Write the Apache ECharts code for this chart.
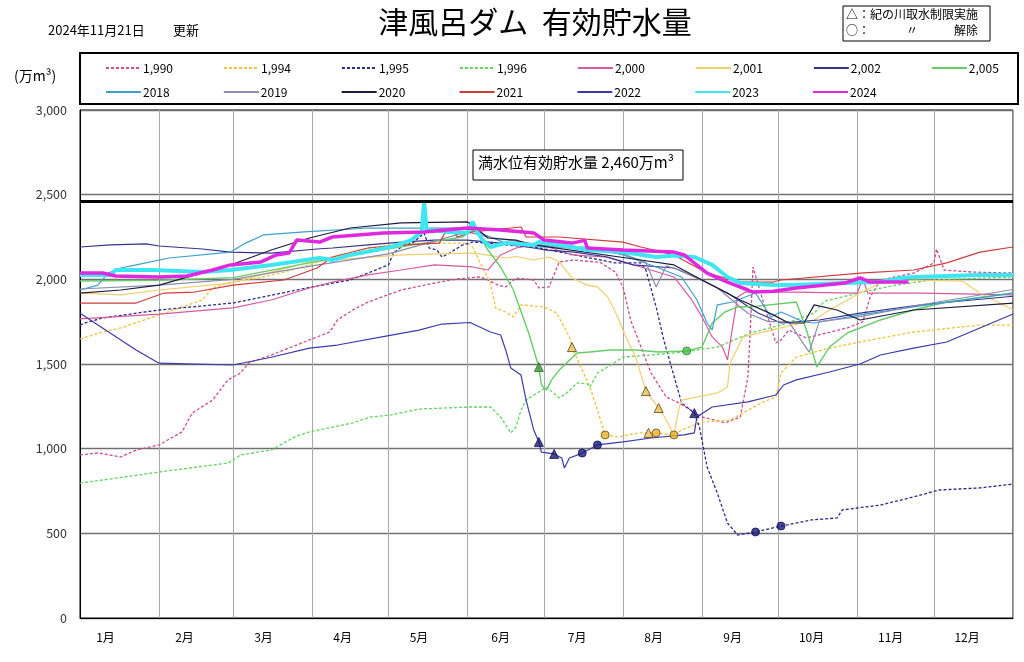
<!DOCTYPE html>
<html><head><meta charset="utf-8">
<script src="https://cdn.jsdelivr.net/npm/echarts@6/dist/echarts.min.js"></script>
<style>html,body{margin:0;padding:0;background:#fff}#c{width:1024px;height:662px}</style>
</head><body><div id="c"></div>
<script>
// ---- axis / tick data ----
const monthStarts = [0,31,60,91,121,152,182,213,244,274,305,335,366];
const monthLabels = ['1月','2月','3月','4月','5月','6月','7月','8月','9月','10月','11月','12月'];
const labelDays = [10,41,72,103,133,165,195,225,256,287,318,348];
const fullLevel = 2460;

// ---- series values: [day of year, 万m3] ----
const y1990 = [[0,963],[7,975],[16,951],[22,992],[31,1022],[40,1099],[44,1210],[52,1287],[58,1406],[63,1447],[66,1505],[75,1553],[90,1642],[98,1689],[101,1760],[107,1819],[113,1866],[126,1937],[141,1984],[148,2002],[157,2014],[160,1996],[164,1966],[167,1955],[171,2008],[178,1996],[180,1949],[184,1955],[188,2103],[194,2114],[204,2100],[210,2043],[213,1955],[216,1760],[219,1642],[224,1447],[230,1305],[235,1270],[244,1187],[253,1152],[259,1187],[262,1423],[263,1719],[264,2073],[267,1919],[271,1719],[273,1624],[275,1642],[278,1700],[285,1654],[301,1713],[307,1748],[310,1896],[314,1996],[327,2037],[335,2097],[336,2179],[339,2055],[350,2043],[366,2037]];
const y1994 = [[0,1648],[9,1689],[16,1713],[31,1790],[48,1878],[52,1949],[58,1978],[70,2008],[80,2043],[90,2085],[99,2132],[113,2185],[122,2203],[139,2214],[152,2214],[154,2191],[157,2097],[161,1978],[163,1831],[167,1807],[170,1778],[173,1849],[182,1837],[187,1801],[192,1660],[193,1600],[200,1364],[203,1228],[206,1081],[211,1069],[219,1093],[226,1093],[233,1081],[236,1110],[244,1157],[255,1169],[268,1276],[273,1305],[275,1447],[281,1541],[294,1594],[306,1630],[327,1689],[353,1730],[366,1730]];
const y1995 = [[0,1730],[3,1748],[9,1772],[31,1819],[60,1860],[91,1955],[106,1996],[121,2085],[123,2155],[126,2191],[131,2220],[135,2274],[137,2185],[140,2173],[142,2132],[145,2155],[150,2203],[154,2220],[160,2214],[167,2203],[178,2191],[210,2097],[220,2097],[222,2055],[226,1837],[229,1642],[236,1270],[241,1210],[243,1128],[246,892],[250,738],[254,561],[258,490],[265,508],[275,543],[287,579],[297,591],[299,638],[314,667],[327,715],[337,756],[353,768],[366,791]];
const y1996 = [[0,797],[9,815],[31,862],[58,915],[60,933],[63,963],[75,992],[85,1075],[90,1099],[107,1152],[114,1187],[122,1199],[133,1234],[153,1246],[161,1246],[165,1187],[169,1093],[171,1128],[173,1228],[175,1287],[183,1364],[188,1300],[191,1329],[195,1388],[199,1383],[200,1364],[203,1447],[207,1482],[213,1541],[224,1553],[237,1571],[250,1600],[263,1683],[275,1730],[288,1800],[292,1870],[307,1925],[320,1966],[334,1996],[366,2014]];
const y2000 = [[0,1766],[31,1795],[60,1831],[75,1878],[90,1949],[99,1984],[113,2026],[126,2055],[139,2085],[154,2073],[160,2055],[165,2144],[171,2185],[178,2203],[182,2200],[193,2144],[206,2132],[220,2073],[233,2014],[240,1878],[244,1778],[248,1660],[252,1600],[254,1524],[256,1719],[258,1896],[261,1925],[280,1925],[305,1919],[307,2008],[309,1919],[330,1919],[366,1908]];
const y2001 = [[0,1919],[16,1908],[31,1937],[59,1978],[90,2103],[99,2114],[126,2144],[152,2155],[157,2150],[167,2126],[171,2135],[178,2114],[184,2132],[188,2103],[193,2008],[199,1966],[203,1955],[207,1896],[211,1778],[213,1701],[216,1600],[218,1541],[222,1340],[227,1240],[230,1169],[233,1081],[235,1240],[236,1287],[250,1329],[254,1364],[255,1506],[257,1565],[260,1660],[275,1713],[288,1760],[294,1819],[306,1919],[314,1978],[327,1996],[346,1990],[353,1919],[366,1819]];
const y2002 = [[0,2191],[12,2203],[26,2209],[31,2197],[48,2179],[59,2161],[75,2155],[93,2179],[99,2185],[113,2203],[126,2220],[139,2232],[152,2232],[165,2214],[178,2185],[183,2173],[194,2161],[207,2132],[217,2085],[233,2067],[244,1996],[254,1919],[266,1801],[275,1742],[290,1760],[306,1800],[330,1850],[366,1900]];
const y2005 = [[0,1990],[31,1995],[60,2010],[91,2100],[121,2180],[150,2250],[155,2300],[160,2173],[165,2073],[170,1937],[176,1683],[180,1482],[181,1376],[183,1346],[185,1406],[188,1464],[195,1565],[200,1571],[208,1583],[218,1583],[227,1571],[238,1577],[244,1600],[248,1742],[253,1807],[258,1837],[265,1840],[281,1866],[285,1701],[289,1482],[294,1600],[301,1683],[314,1760],[327,1819],[340,1866],[366,1919]];
const y2018 = [[0,1937],[7,1966],[11,2037],[16,2067],[22,2085],[35,2126],[59,2161],[65,2214],[72,2262],[88,2280],[113,2303],[152,2303],[167,2214],[180,2191],[200,2191],[213,2144],[226,2073],[236,2014],[242,1878],[246,1742],[248,1701],[250,1849],[256,1866],[265,1919],[271,1778],[275,1807],[284,1748],[288,1742],[306,1790],[327,1837],[366,1919]];
const y2019 = [[0,1943],[31,1966],[60,2000],[91,2080],[121,2150],[152,2280],[160,2250],[182,2200],[213,2150],[222,2100],[226,1955],[230,2080],[236,2050],[250,1950],[262,1800],[270,1750],[278,1750],[286,1570],[290,1750],[306,1780],[330,1850],[366,1940]];
const y2020 = [[0,1919],[16,1937],[31,1966],[59,2085],[75,2173],[90,2244],[106,2303],[126,2333],[152,2339],[154,2321],[160,2244],[171,2232],[178,2203],[220,2114],[233,2085],[244,1996],[259,1878],[272,1790],[278,1742],[284,1742],[288,1849],[297,1819],[306,1760],[327,1819],[366,1860]];
const y2021 = [[0,1860],[22,1860],[33,1919],[45,1925],[60,1966],[80,1996],[93,2067],[99,2132],[113,2185],[126,2203],[141,2214],[143,2270],[146,2303],[148,2250],[154,2280],[173,2309],[175,2250],[188,2250],[213,2220],[220,2191],[233,2144],[246,2037],[259,1984],[272,1984],[275,1996],[306,2037],[327,2055],[340,2097],[353,2161],[366,2191]];
const y2022 = [[0,1800],[22,1583],[31,1505],[60,1494],[75,1540],[90,1594],[101,1612],[120,1665],[133,1700],[142,1736],[153,1745],[161,1689],[165,1671],[167,1583],[169,1476],[173,1435],[175,1287],[178,1110],[180,1040],[181,980],[186,969],[189,945],[190,886],[192,945],[197,974],[203,1022],[213,1040],[224,1063],[237,1081],[241,1093],[242,1187],[248,1246],[262,1276],[273,1317],[276,1376],[281,1406],[294,1453],[306,1500],[314,1553],[327,1594],[340,1630],[353,1713],[366,1795]];
const y2023 = [[0,2026],[12,2026],[14,2055],[29,2055],[48,2043],[59,2055],[75,2085],[94,2126],[99,2114],[106,2144],[122,2191],[130,2232],[134,2280],[135,2457],[136,2292],[145,2280],[152,2274],[154,2339],[156,2274],[158,2232],[161,2191],[167,2214],[178,2203],[180,2220],[193,2191],[199,2173],[213,2161],[226,2132],[233,2140],[241,2132],[248,2085],[254,2014],[259,1978],[272,1966],[279,1966],[300,1978],[314,1984],[322,2008],[327,2014],[353,2026],[366,2026]];
const y2024 = [[0,2037],[9,2037],[14,2020],[31,2014],[42,2020],[52,2055],[59,2085],[71,2103],[77,2144],[82,2155],[85,2232],[94,2220],[99,2250],[119,2274],[135,2280],[152,2303],[165,2292],[178,2274],[182,2232],[193,2214],[198,2230],[199,2185],[213,2173],[233,2161],[237,2144],[246,2037],[254,1984],[262,1937],[264,1925],[272,1930],[281,1949],[300,1978],[306,2008],[310,1984],[325,1984]];

// ---- 取水制限 markers ----
const startGreen = [[180,1482]];
const endGreen = [[238,1577]];
const startGold = [[193,1600],[222,1340],[227,1240],[223,1093]];
const endGold = [[206,1081],[226,1093],[233,1081]];
const startNavy = [[180,1040],[186,969],[241,1210]];
const endNavy = [[197,974],[203,1022],[265,508],[275,543]];

const seriesDefs = [
  ['1,990', y1990, '#d24b8f', 'dash', 1.3],
  ['1,994', y1994, '#f2c23a', 'dash', 1.3],
  ['1,995', y1995, '#2b2b8c', 'dash', 1.3],
  ['1,996', y1996, '#5fd65f', 'dash', 1.3],
  ['2,000', y2000, '#d65aa0', 'solid', 1.2],
  ['2,001', y2001, '#f0cf6a', 'solid', 1.2],
  ['2,002', y2002, '#33338f', 'solid', 1.2],
  ['2,005', y2005, '#66cc66', 'solid', 1.4],
  ['2018', y2018, '#3aa0cc', 'solid', 1.2],
  ['2019', y2019, '#8c8cb0', 'solid', 1.2],
  ['2020', y2020, '#1c1c40', 'solid', 1.2],
  ['2021', y2021, '#d03c3c', 'solid', 1.2],
  ['2022', y2022, '#3a3aae', 'solid', 1.2],
  ['2023', y2023, '#3ee6f2', 'solid', 4],
  ['2024', y2024, '#e028e0', 'solid', 3.5]
];

const font = '"Noto Sans CJK JP", "Noto Sans", sans-serif';
const series = seriesDefs.map(([name, data, color, style, w]) => ({
  name, type: 'line', data, showSymbol: false, symbol: 'none', silent: true,
  color,
  lineStyle: { color, width: w, type: style === 'dash' ? [3, 2] : 'solid' }
}));
series.push({
  name: 'full', type: 'line', data: [], silent: true,
  markLine: { silent: true, symbol: 'none', label: { show: false },
    lineStyle: { color: '#000', width: 3, type: 'solid' },
    data: [{ yAxis: fullLevel }] }
});
function scat(data, symbol, fill, border) {
  return { type: 'scatter', data, symbol, symbolSize: symbol === 'triangle' ? 9 : 8, silent: true, z: 5,
    itemStyle: { color: fill, borderColor: border, borderWidth: 1 } };
}
series.push(scat(startGreen, 'triangle', '#3f9a3f', '#2a6a2a'));
series.push(scat(endGreen, 'circle', '#49c049', '#2a8a2a'));
series.push(scat(startGold, 'triangle', '#e9c060', '#5a4510'));
series.push(scat(endGold, 'circle', '#e8b030', '#6a5010'));
series.push(scat(startNavy, 'triangle', '#1a1a70', '#101050'));
series.push(scat(endNavy, 'circle', '#1a1a80', '#101050'));

const names = seriesDefs.map(d => d[0]);
const legendCommon = { left: 105, padding: 0, itemWidth: 35, itemHeight: 12, selectedMode: false,
  itemStyle: { opacity: 0 },
  textStyle: { fontFamily: font, fontSize: 12, color: '#000', padding: [0, 0, 0, -3] } };

const chart = echarts.init(document.getElementById('c'));
chart.setOption({
  animation: false,
  backgroundColor: '#fff',
  grid: { left: 80, right: 11, top: 110, bottom: 44, show: true, borderColor: '#000', borderWidth: 1 },
  legend: [
    Object.assign({ top: 62, itemGap: 50, data: names.slice(0, 8) }, legendCommon),
    Object.assign({ top: 86, itemGap: 53.2, data: names.slice(8) }, legendCommon)
  ],
  xAxis: {
    type: 'category', boundaryGap: false,
    data: Array.from({ length: 367 }, (_, i) => String(i)),
    axisLine: { lineStyle: { color: '#000' } },
    axisTick: { show: false },
    axisLabel: { interval: (i) => labelDays.includes(i), formatter: (v, i) => monthLabels[labelDays.indexOf(i)] || '',
      fontFamily: font, fontSize: 12, color: '#000', margin: 13 },
    splitLine: { show: true, interval: (i) => monthStarts.includes(i), lineStyle: { color: '#a8a8a8', width: 1 } }
  },
  yAxis: {
    type: 'value', min: 0, max: 3000, interval: 500,
    axisLine: { show: true, lineStyle: { color: '#000' } },
    axisTick: { show: false },
    axisLabel: { formatter: v => v.toLocaleString('en-US'), fontFamily: font, fontSize: 12.5, color: '#333', margin: 13 },
    splitLine: { lineStyle: { color: '#707070', width: 1.3 } }
  },
  graphic: [
    { type: 'text', x: 48, y: 24, style: { text: '2024年11月21日', fontFamily: font, fontSize: 13, fill: '#000' } },
    { type: 'text', x: 173, y: 24, style: { text: '更新', fontFamily: font, fontSize: 13, fill: '#000' } },
    { type: 'text', x: 535, y: 7, style: { text: '津風呂ダム  有効貯水量', textAlign: 'center', fontFamily: font, fontSize: 30, fill: '#000' } },
    { type: 'rect', shape: { x: 843, y: 6, width: 147, height: 35 }, style: { fill: '#fff', stroke: '#000', lineWidth: 1 } },
    { type: 'text', x: 846, y: 8, style: { text: '△：紀の川取水制限実施', fontFamily: font, fontSize: 12, fill: '#000' } },
    { type: 'text', x: 846, y: 24, style: { text: '○：　　　〃　　　解除', fontFamily: font, fontSize: 12, fill: '#000' } },
    { type: 'rect', shape: { x: 80, y: 53, width: 938, height: 51 }, style: { fill: 'none', stroke: '#000', lineWidth: 2 }, z: -1 },
    { type: 'text', x: 14, y: 69, style: { text: '(万m³)', fontFamily: font, fontSize: 14, fill: '#000' } },
    { type: 'rect', shape: { x: 473, y: 150, width: 210, height: 30 }, style: { fill: '#fff', stroke: '#000', lineWidth: 1 }, z: 10 },
    { type: 'text', x: 478, y: 155, z: 11, style: { text: '満水位有効貯水量 2,460万m³', fontFamily: font, fontSize: 15, fill: '#000' } }
  ],
  series
});
</script></body></html>
